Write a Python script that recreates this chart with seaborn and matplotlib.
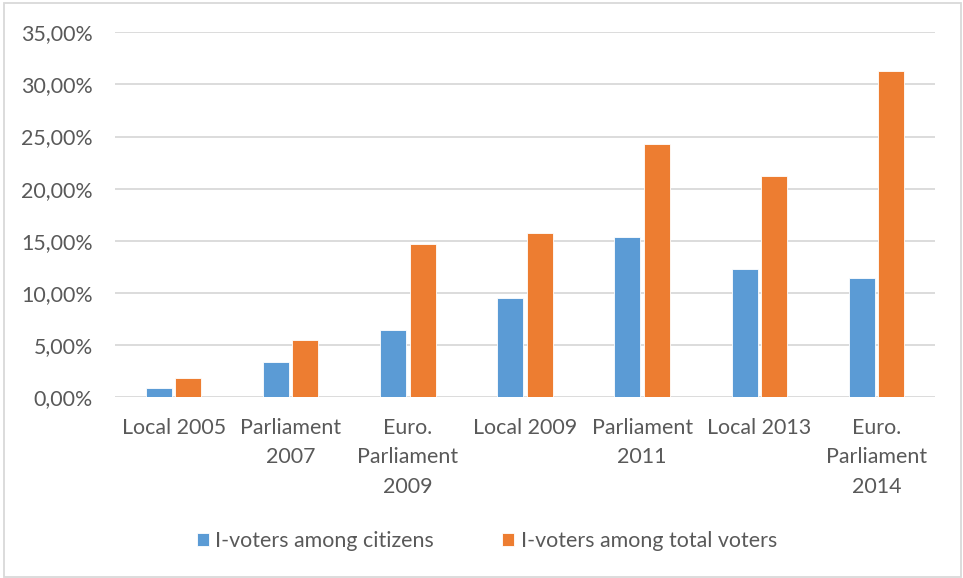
import matplotlib
matplotlib.use("Agg")
import matplotlib.pyplot as plt
import seaborn as sns
import pandas as pd
from matplotlib.patches import Rectangle
from matplotlib.ticker import FuncFormatter, MultipleLocator

categories = ["Local 2005", "Parliament\n2007", "Euro.\nParliament\n2009", "Local 2009",
              "Parliament\n2011", "Local 2013", "Euro.\nParliament\n2014"]
citizens = [0.86, 3.39, 6.48, 9.49, 15.37, 12.30, 11.41]
total_voters = [1.88, 5.47, 14.67, 15.79, 24.29, 21.19, 31.32]
series_names = ["I-voters among citizens", "I-voters among total voters"]
colors = ["#5B9BD5", "#ED7D31"]

df = pd.DataFrame({
    "Election": categories * 2,
    "Value": citizens + total_voters,
    "Series": [series_names[0]] * len(categories) + [series_names[1]] * len(categories),
})

sns.set_theme(style="white")
plt.rcParams["font.family"] = ["Lato", "DejaVu Sans"]
text_color = "#595959"
grid_color = "#D9D9D9"

fig = plt.figure(figsize=(9.63, 5.78), dpi=100)
ax = fig.add_axes([115 / 963, 1 - 397.3 / 578, (935 - 115) / 963, (397.3 - 32.3) / 578])

sns.barplot(data=df, x="Election", y="Value", hue="Series", palette=colors,
            width=0.504, gap=0.12, ax=ax, saturation=1, edgecolor="white", linewidth=0.6)

ax.set_ylim(0, 35)
ax.yaxis.set_major_locator(MultipleLocator(5))
ax.yaxis.set_major_formatter(FuncFormatter(lambda v, p: f"{v:.2f}".replace(".", ",") + "%"))
ax.set_xlabel("")
ax.set_ylabel("")
for s in ax.spines.values():
    s.set_visible(False)
ax.yaxis.grid(True, color=grid_color, linewidth=1.3)
ax.set_axisbelow(True)
ax.tick_params(axis="both", length=0, colors=text_color, labelsize=15.4)
ax.tick_params(axis="y", pad=16)
ax.tick_params(axis="x", pad=15)
for lbl in ax.get_xticklabels():
    lbl.set_linespacing(1.58)

handles, labels = ax.get_legend_handles_labels()
if ax.legend_:
    ax.legend_.remove()
leg = fig.legend(handles, labels, loc="center", bbox_to_anchor=(487 / 963, 1 - 541 / 578),
                 ncol=2, frameon=False, fontsize=15.4, handlelength=0.55, handleheight=0.55,
                 handletextpad=0.3, columnspacing=3.2, labelcolor=text_color)

fig.patches.append(Rectangle((4 / 963, 1 / 578), 957 / 963, 574 / 578, transform=fig.transFigure,
                             fill=False, edgecolor=grid_color, linewidth=1.3))

fig.savefig("out.png", dpi=100)
